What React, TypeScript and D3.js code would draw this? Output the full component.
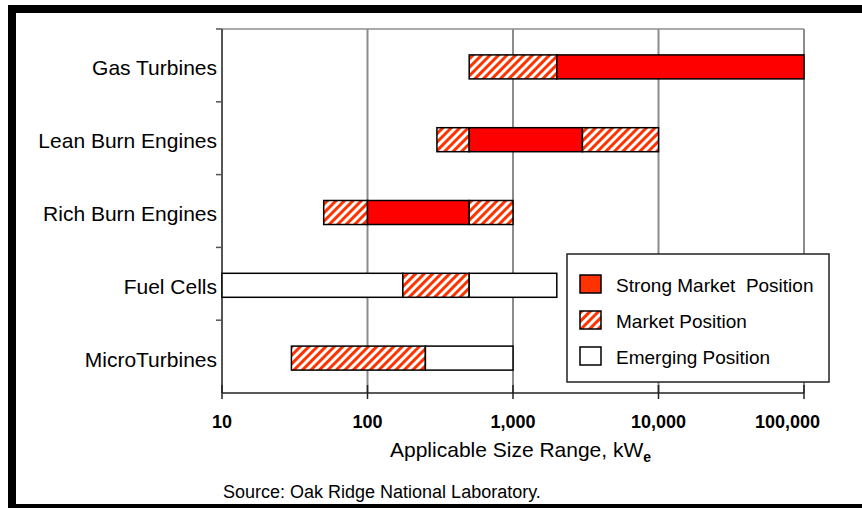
import React from "react";
import * as d3 from "d3";

const categories = ["Gas Turbines", "Lean Burn Engines", "Rich Burn Engines", "Fuel Cells", "MicroTurbines"];
const segCategory = [
  "Gas Turbines", "Gas Turbines",
  "Lean Burn Engines", "Lean Burn Engines", "Lean Burn Engines",
  "Rich Burn Engines", "Rich Burn Engines", "Rich Burn Engines",
  "Fuel Cells", "Fuel Cells", "Fuel Cells",
  "MicroTurbines", "MicroTurbines",
];
const segFrom = [500, 2000, 300, 500, 3000, 50, 100, 500, 10, 175, 500, 30, 250];
const segTo = [2000, 100000, 500, 3000, 10000, 100, 500, 1000, 175, 500, 2000, 250, 1000];
const segType = [
  "market", "strong",
  "market", "strong", "market",
  "market", "strong", "market",
  "emerging", "market", "emerging",
  "market", "emerging",
];
const tickValues = [10, 100, 1000, 10000, 100000];
const tickLabels = ["10", "100", "1,000", "10,000", "100,000"];
const legendTypes = ["strong", "market", "emerging"];
const legendLabels = ["Strong Market\u00a0 Position", "Market Position", "Emerging Position"];

const W = 862;
const H = 508;
const left = 222, right = 804, top = 29, bottom = 393;
const font = "'Liberation Sans', Arial, sans-serif";

export default function App() {
  const x = d3.scaleLog().domain([10, 100000]).range([left, right]);
  const y = d3.scaleBand<string>().domain(categories).range([top, bottom]);
  const barH = 24;
  const fillFor = (t: string, legend = false) =>
    t === "strong" ? (legend ? "#ff3300" : "#ff0000") : t === "market" ? "url(#hatch)" : "#ffffff";

  const lx = 567, ly = 254, lw = 262, lh = 128;

  return (
    <svg width={W} height={H} style={{ position: "absolute", left: 0, top: 0, background: "#fff" }}>
      <defs>
        <pattern id="hatch" width={6} height={6} patternUnits="userSpaceOnUse" patternTransform="rotate(45)">
          <rect width={6} height={6} fill="#fff" />
          <rect width={3} height={6} fill="#ff3300" />
        </pattern>
      </defs>
      {/* frame */}
      <rect x={8} y={5} width={W - 8} height={8} fill="#000" />
      <rect x={8} y={5} width={8} height={H - 5} fill="#000" />
      <rect x={8} y={504} width={W - 8} height={4} fill="#000" />

      {/* gridlines */}
      {tickValues.slice(1).map((v) => (
        <line key={"g" + v} x1={x(v)} x2={x(v)} y1={top} y2={bottom} stroke="#8c8c8c" strokeWidth={2} />
      ))}
      <line x1={left} x2={right} y1={top} y2={top} stroke="#8c8c8c" strokeWidth={1.5} />

      {/* y axis */}
      <line x1={left} x2={left} y1={top} y2={bottom} stroke="#555" strokeWidth={2} />
      {categories.map((c) => (
        <line key={"yt" + c} x1={left - 6} x2={left} y1={y(c)!} y2={y(c)!} stroke="#555" strokeWidth={1.5} />
      ))}
      {categories.map((c) => (
        <text key={"yl" + c} x={217} y={y(c)! + y.bandwidth() / 2 + 10} textAnchor="end"
          fontFamily={font} fontSize={21} fill="#000">{c}</text>
      ))}

      {/* bars */}
      {segFrom.map((f, i) => (
        <rect key={"b" + i} x={x(f)} y={y(segCategory[i])! + (y.bandwidth() - barH) / 2 + 1.5}
          width={x(segTo[i]) - x(f)} height={barH} fill={fillFor(segType[i])}
          stroke="#000" strokeWidth={1.5} />
      ))}

      {/* x axis */}
      <line x1={left} x2={right} y1={bottom} y2={bottom} stroke="#222" strokeWidth={1.5} />
      {tickValues.map((v) => (
        <line key={"xt" + v} x1={x(v)} x2={x(v)} y1={bottom - 8} y2={bottom + 6} stroke="#222" strokeWidth={1.5} />
      ))}
      {tickValues.map((v, i) => {
        const last = i === tickValues.length - 1;
        return (
          <text key={"xl" + v} x={last ? x(v) + 16 : x(v)} y={428} textAnchor={last ? "end" : "middle"}
            fontFamily={font} fontSize={18} fontWeight="bold" fill="#000">{tickLabels[i]}</text>
        );
      })}
      <text x={390} y={457} fontFamily={font} fontSize={21} fill="#000">
        Applicable Size Range, kW<tspan fontSize={14} fontWeight="bold" dy={5}>e</tspan>
      </text>
      <text x={223} y={498} fontFamily={font} fontSize={18} fill="#000">Source: Oak Ridge National Laboratory.</text>

      {/* legend */}
      <rect x={lx} y={ly} width={lw} height={lh} fill="#fff" stroke="#222" strokeWidth={1.5} />
      {legendTypes.map((t, i) => (
        <g key={"lg" + t}>
          <rect x={580} y={275 + i * 36} width={21} height={18} fill={fillFor(t, true)} stroke="#000" strokeWidth={1.5} />
          <text x={616} y={292 + i * 36} fontFamily={font} fontSize={19} fill="#000">{legendLabels[i]}</text>
        </g>
      ))}
    </svg>
  );
}
